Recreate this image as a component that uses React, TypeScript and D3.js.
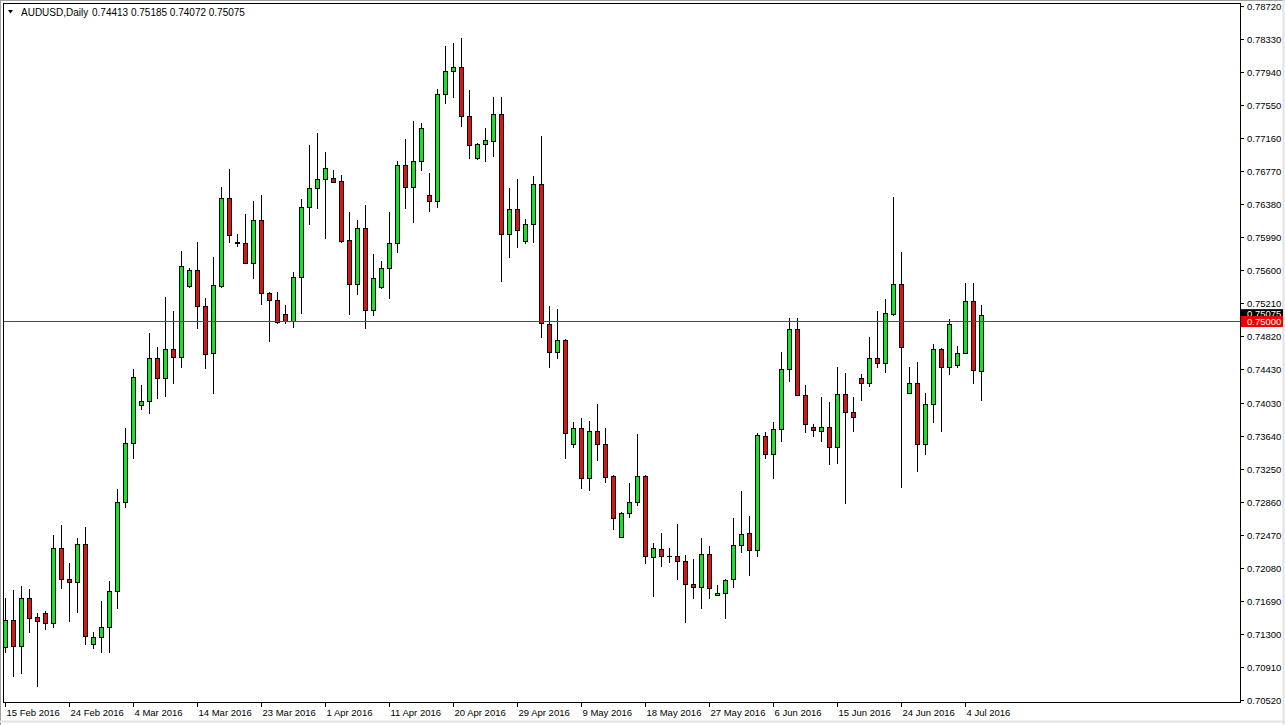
import React from "react";
import * as d3 from "d3";

// AUDUSD daily bars, 15 Feb 2016 .. 6 Jul 2016 (broker also prints Sunday bars)
const openPrices = [
	0.71147, 0.71466, 0.71159, 0.71726, 0.71501, 0.71549, 0.7143, 0.72317, 0.7195, 0.71915,
	0.72364, 0.71182, 0.71265, 0.71383, 0.71809, 0.72861, 0.73558, 0.74007, 0.74054, 0.74563,
	0.74326, 0.74669, 0.74574, 0.75414, 0.75603, 0.75177, 0.74622, 0.75414, 0.76454, 0.75928,
	0.75922, 0.75686, 0.76194, 0.75331, 0.75248, 0.75083, 0.75, 0.7552, 0.76347, 0.76572,
	0.76678, 0.7669, 0.76655, 0.75957, 0.75437, 0.76099, 0.7513, 0.75402, 0.75626, 0.75922,
	0.76844, 0.76584, 0.76891, 0.76489, 0.76418, 0.77683, 0.77955, 0.78002, 0.77423, 0.76927,
	0.77092, 0.77128, 0.77447, 0.76028, 0.76324, 0.75946, 0.76147, 0.76619, 0.74965, 0.74634,
	0.74775, 0.73546, 0.73735, 0.73144, 0.737, 0.73546, 0.73168, 0.72447, 0.72731, 0.72861,
	0.73168, 0.7221, 0.72305, 0.72228, 0.72222, 0.72163, 0.71891, 0.71856, 0.72246, 0.71761,
	0.71785, 0.7195, 0.72352, 0.72494, 0.72293, 0.73641, 0.73428, 0.73723, 0.74433, 0.74905,
	0.74125, 0.73747, 0.737, 0.73747, 0.73511, 0.74137, 0.73924, 0.74326, 0.74267, 0.74563,
	0.74504, 0.75083, 0.75437, 0.74149, 0.74267, 0.73546, 0.74019, 0.74669, 0.74456, 0.7448,
	0.74622, 0.75236, 0.74413,
];
const highPrices = [
	0.71726, 0.7182, 0.71868, 0.71832, 0.71549, 0.71572, 0.72471, 0.72589, 0.7214, 0.72435,
	0.72565, 0.71324, 0.7169, 0.71927, 0.73014, 0.73735, 0.74433, 0.74244, 0.74858, 0.74693,
	0.75284, 0.75118, 0.75827, 0.75626, 0.75934, 0.75272, 0.75756, 0.76584, 0.76797, 0.76028,
	0.76265, 0.76418, 0.76489, 0.75343, 0.75343, 0.75189, 0.75579, 0.76442, 0.7708, 0.77222,
	0.76998, 0.76785, 0.76726, 0.76288, 0.76194, 0.76371, 0.75792, 0.75709, 0.76288, 0.76891,
	0.77151, 0.77364, 0.7734, 0.76749, 0.77742, 0.78251, 0.78286, 0.78345, 0.7773, 0.77104,
	0.77281, 0.77648, 0.77648, 0.76572, 0.76678, 0.76206, 0.76714, 0.77187, 0.75177, 0.75142,
	0.74787, 0.73806, 0.73853, 0.73818, 0.74019, 0.73735, 0.7318, 0.72742, 0.73085, 0.73664,
	0.7318, 0.72376, 0.72494, 0.72317, 0.72601, 0.72234, 0.72187, 0.72435, 0.7234, 0.71879,
	0.7195, 0.72671, 0.72991, 0.72695, 0.73676, 0.73688, 0.73806, 0.74634, 0.75035, 0.75035,
	0.74244, 0.73783, 0.74102, 0.74043, 0.74456, 0.74385, 0.74102, 0.74374, 0.74811, 0.75118,
	0.7526, 0.76466, 0.75816, 0.74456, 0.74515, 0.74149, 0.74728, 0.74681, 0.75024, 0.74705,
	0.75449, 0.75449, 0.75185,
];
const lowPrices = [
	0.71088, 0.70804, 0.70839, 0.71324, 0.70686, 0.71359, 0.71383, 0.71844, 0.71454, 0.7156,
	0.71182, 0.71135, 0.71088, 0.71088, 0.71608, 0.72801, 0.73381, 0.7396, 0.73913, 0.7409,
	0.74114, 0.74267, 0.74456, 0.75402, 0.74917, 0.74444, 0.74149, 0.75402, 0.75934, 0.75887,
	0.75686, 0.75508, 0.75201, 0.74764, 0.74976, 0.74976, 0.74929, 0.75095, 0.76147, 0.76336,
	0.75981, 0.76643, 0.75934, 0.75083, 0.75319, 0.74917, 0.75071, 0.7539, 0.75272, 0.75816,
	0.76336, 0.7617, 0.76785, 0.763, 0.76347, 0.77577, 0.77648, 0.77305, 0.76927, 0.76915,
	0.76891, 0.7695, 0.75473, 0.75756, 0.75875, 0.75922, 0.75934, 0.74811, 0.74456, 0.74563,
	0.73381, 0.73511, 0.73026, 0.73002, 0.73357, 0.73097, 0.72541, 0.72447, 0.72683, 0.72825,
	0.7214, 0.7175, 0.72104, 0.72151, 0.7195, 0.71442, 0.71726, 0.71608, 0.71726, 0.71761,
	0.71489, 0.71856, 0.7227, 0.71998, 0.72222, 0.73381, 0.73144, 0.73582, 0.74291, 0.74125,
	0.73688, 0.73641, 0.73582, 0.7331, 0.73322, 0.72849, 0.737, 0.74066, 0.74232, 0.74456,
	0.74397, 0.75071, 0.73038, 0.74149, 0.73227, 0.73428, 0.73806, 0.737, 0.74374, 0.74456,
	0.74622, 0.74267, 0.74072,
];
const closePrices = [
	0.71466, 0.71159, 0.71726, 0.71489, 0.71454, 0.7143, 0.72317, 0.7195, 0.71915, 0.72364,
	0.71277, 0.71265, 0.71383, 0.71809, 0.72861, 0.73558, 0.74338, 0.74054, 0.74563, 0.74326,
	0.74669, 0.74574, 0.7565, 0.75603, 0.75177, 0.7461, 0.75426, 0.76454, 0.76017, 0.75922,
	0.75686, 0.76194, 0.75331, 0.75248, 0.74988, 0.75, 0.7552, 0.76347, 0.76572, 0.76678,
	0.76808, 0.76643, 0.75946, 0.75437, 0.76099, 0.7513, 0.75508, 0.75626, 0.75922, 0.76844,
	0.76584, 0.76891, 0.77281, 0.76418, 0.77683, 0.77955, 0.78002, 0.77423, 0.7708, 0.77092,
	0.77139, 0.77447, 0.76028, 0.76324, 0.76076, 0.76147, 0.76619, 0.74976, 0.74634, 0.74775,
	0.73676, 0.73735, 0.73144, 0.737, 0.73546, 0.73156, 0.72671, 0.72731, 0.72861, 0.73168,
	0.72222, 0.72317, 0.72222, 0.72222, 0.72163, 0.71891, 0.71856, 0.72246, 0.71844, 0.71785,
	0.71939, 0.72352, 0.72482, 0.72293, 0.73653, 0.73428, 0.73723, 0.74433, 0.74905, 0.74125,
	0.73783, 0.73712, 0.73747, 0.73511, 0.74137, 0.73924, 0.73865, 0.74267, 0.74563, 0.74504,
	0.75095, 0.75437, 0.74693, 0.74267, 0.73546, 0.74019, 0.74669, 0.74456, 0.74965, 0.74622,
	0.75236, 0.74421, 0.75075,
];

const dateTicks = [
	"15 Feb 2016", "24 Feb 2016", "4 Mar 2016", "14 Mar 2016", "23 Mar 2016", "1 Apr 2016",
	"11 Apr 2016", "20 Apr 2016", "29 Apr 2016", "9 May 2016", "18 May 2016", "27 May 2016",
	"6 Jun 2016", "15 Jun 2016", "24 Jun 2016", "4 Jul 2016",
];
const priceTicks = [
	"0.78720", "0.78330", "0.77940", "0.77550", "0.77160", "0.76770", "0.76380", "0.75990",
	"0.75600", "0.75210", "0.74820", "0.74430", "0.74030", "0.73640", "0.73250", "0.72860",
	"0.72470", "0.72080", "0.71690", "0.71300", "0.70910", "0.70520",
];
const levelLine = 0.75;
const symbolTitle = "AUDUSD,Daily";

const fmt = d3.timeFormat("%-d %b %Y");

// bar dates: every day except Saturday
const barDates: Date[] = [];
{
	const d = new Date(2016, 1, 15);
	while (barDates.length < openPrices.length) {
		if (d.getDay() !== 6) barDates.push(new Date(d));
		d.setDate(d.getDate() + 1);
	}
}
const barLabels = barDates.map((d) => fmt(d));

export default function App() {
	const width = 1285;
	const height = 725;
	const frameLeft = 3;
	const frameTop = 3;
	const frameRight = 1240;
	const frameBottom = 702;
	const font = "'Liberation Sans', Arial, sans-serif";

	const x = d3
		.scaleBand<string>()
		.domain(barLabels)
		.range([1, 1 + 8 * barLabels.length]);
	const cx = (label: string) => Math.round((x(label) || 0) + 4);

	const y = d3.scaleLinear().domain([0.7052, 0.7872]).range([700, 6.3]);

	const bars = barLabels.map((label, i) => ({
		label,
		o: openPrices[i],
		h: highPrices[i],
		l: lowPrices[i],
		c: closePrices[i],
	}));

	const last = bars[bars.length - 1];
	const header = [last.o, last.h, last.l, last.c].map((v) => v.toFixed(5)).join(" ");
	const levelY = Math.round(y(levelLine)) + 0.5;

	return (
		<svg
			width={width}
			height={height}
			style={{ position: "absolute", left: 0, top: 0, background: "#fff" }}
			fontFamily={font}
		>
			<defs>
				<clipPath id="plot">
					<rect
						x={frameLeft + 1}
						y={frameTop + 1}
						width={frameRight - frameLeft - 1}
						height={frameBottom - frameTop - 1}
					/>
				</clipPath>
			</defs>

			{/* window edges */}
			<rect x={0} y={0} width={width} height={height} fill="#fff" />
			<line x1={0.5} x2={0.5} y1={0} y2={height} stroke="#a0a0a0" />
			<line x1={0} x2={width} y1={0.5} y2={0.5} stroke="#a0a0a0" />
			<line x1={0} x2={width} y1={721.5} y2={721.5} stroke="#e2e2e2" strokeWidth={2} />
			<line x1={1283.5} x2={1283.5} y1={0} y2={height} stroke="#e2e2e2" strokeWidth={2} />

			{/* candles */}
			<g clipPath="url(#plot)">
				{bars.map((b) => {
					const px = cx(b.label);
					const top = Math.round(y(Math.max(b.o, b.c)));
					const bot = Math.round(y(Math.min(b.o, b.c)));
					const up = b.c >= b.o;
					return (
						<g key={b.label}>
							<line
								x1={px + 0.5}
								x2={px + 0.5}
								y1={Math.round(y(b.h))}
								y2={Math.round(y(b.l)) + 1}
								stroke="#000"
							/>
							{bot - top >= 1 ? (
								<rect
									x={px - 1.5}
									y={top + 0.5}
									width={4}
									height={bot - top}
									fill={up ? "#1ee01e" : "#dc1414"}
									stroke="#000"
								/>
							) : (
								<line
									x1={px - 2}
									x2={px + 3}
									y1={top + 0.5}
									y2={top + 0.5}
									stroke="#000"
								/>
							)}
						</g>
					);
				})}
			</g>

			{/* level line, drawn over the bars */}
			<line
				x1={frameLeft}
				x2={frameRight}
				y1={levelY}
				y2={levelY}
				stroke="#ff0000"
				strokeWidth={1}
				shapeRendering="crispEdges"
			/>

			{/* frame */}
			<rect
				x={frameLeft + 0.5}
				y={frameTop + 0.5}
				width={frameRight - frameLeft}
				height={frameBottom - frameTop}
				fill="none"
				stroke="#000"
			/>

			{/* header */}
			<path d="M8,10 L13,10 L10.5,13.5 Z" fill="#000" />
			<text x={21} y={16} fontSize={10} fill="#000">
				{symbolTitle}
			</text>
			<text x={92} y={16} fontSize={10} fill="#000">
				{header}
			</text>

			{/* price axis */}
			<g>
				{priceTicks.map((t) => {
					const ty = Math.round(y(parseFloat(t))) + 0.5;
					return (
						<g key={t}>
							<line x1={frameRight} x2={frameRight + 4} y1={ty} y2={ty} stroke="#000" />
							<text x={1247} y={ty} dy="0.35em" fontSize={9.5} fill="#000">
								{t}
							</text>
						</g>
					);
				})}
			</g>

			{/* current bid label, partly covered by the level label */}
			<g>
				<rect x={1241} y={y(last.c) - 5.5} width={42} height={11} fill="#000" />
				<text x={1247} y={y(last.c) - 1} dy="0.35em" fontSize={9.5} fill="#fff">
					{last.c.toFixed(5)}
				</text>
				<rect x={1241} y={y(levelLine) - 5} width={42} height={11} fill="#f00000" />
				<text x={1247} y={y(levelLine) + 0.5} dy="0.35em" fontSize={9.5} fill="#fff">
					{levelLine.toFixed(5)}
				</text>
			</g>

			{/* date axis */}
			<g>
				{dateTicks.map((t) => {
					const tx = cx(t) + 0.5;
					return (
						<g key={t}>
							<line x1={tx} x2={tx} y1={frameBottom} y2={frameBottom + 5} stroke="#000" />
							<text x={tx + 1} y={716} fontSize={9.5} fill="#000">
								{t}
							</text>
						</g>
					);
				})}
			</g>
		</svg>
	);
}
